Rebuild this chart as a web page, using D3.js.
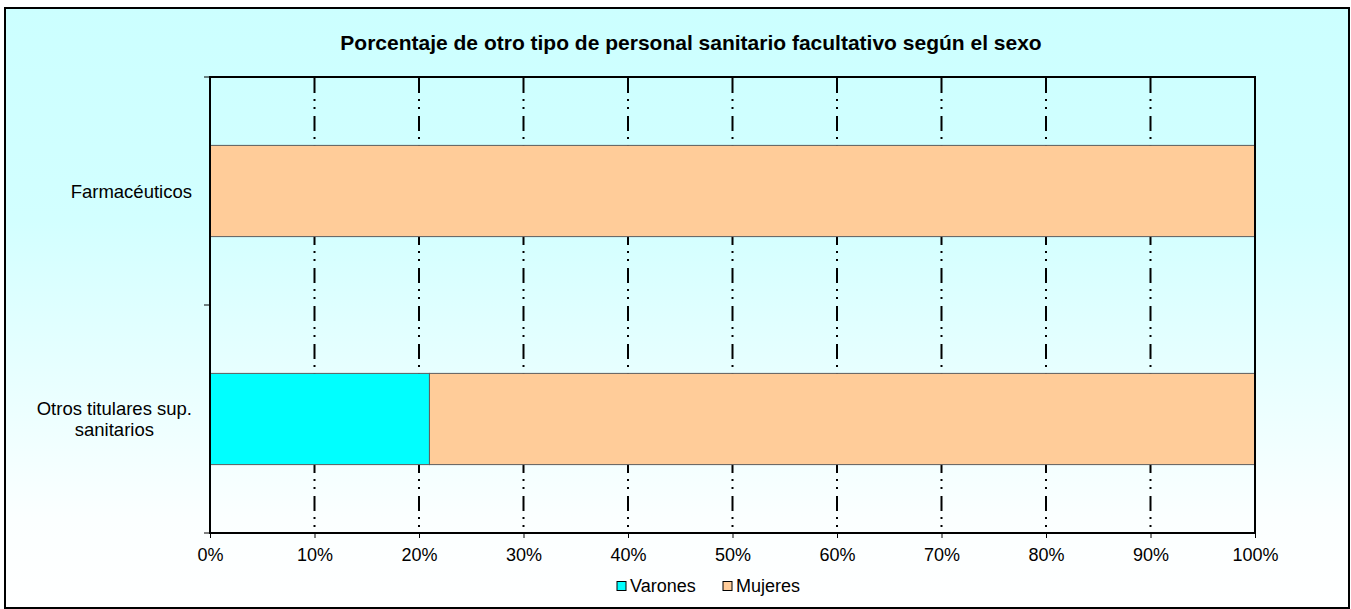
<!DOCTYPE html>
<html lang="es">
<head>
<meta charset="UTF-8">
<title>Porcentaje de otro tipo de personal sanitario facultativo</title>
<script src="https://cdn.jsdelivr.net/npm/d3@7"></script>
<style>
    body { margin: 0; background-color: #ffffff; }
    text { font-family: "Liberation Sans", Arial, sans-serif; fill: #000; }
</style>
</head>
<body>
<div id="my_dataviz"></div>
<script>

// data
var categories = ["Farmacéuticos", "Otros titulares sup. sanitarios"];
var labelLines = [["Farmacéuticos"], ["Otros titulares sup.", "sanitarios"]];
var varones = [0, 0.21];
var mujeres = [1.0, 0.79];
var seriesNames = ["Varones", "Mujeres"];
var seriesColors = ["#00ffff", "#ffcc99"];
var xTicks = [0, 0.1, 0.2, 0.3, 0.4, 0.5, 0.6, 0.7, 0.8, 0.9, 1.0];
var title = "Porcentaje de otro tipo de personal sanitario facultativo según el sexo";

var W = 1351, H = 609;
var margin = {top: 77, right: 96, bottom: 76, left: 210},
    width = W - margin.left - margin.right,
    height = H - margin.top - margin.bottom;

var svg = d3.select("#my_dataviz")
    .append("svg")
        .attr("width", W)
        .attr("height", H);

// background gradient
var grad = svg.append("defs").append("linearGradient")
    .attr("id", "bg")
    .attr("x1", 0).attr("y1", 0).attr("x2", 0).attr("y2", 1);
grad.append("stop").attr("offset", "0%").attr("stop-color", "#ccffff");
grad.append("stop").attr("offset", "35%").attr("stop-color", "#d2ffff");
grad.append("stop").attr("offset", "85%").attr("stop-color", "#fbffff");
grad.append("stop").attr("offset", "100%").attr("stop-color", "#ffffff");

svg.append("rect")
    .attr("x", 5).attr("y", 8)
    .attr("width", 1344).attr("height", 600)
    .attr("fill", "url(#bg)")
    .attr("stroke", "#000")
    .attr("stroke-width", 2);

// title
svg.append("text")
    .attr("x", 691)
    .attr("y", 42)
    .attr("text-anchor", "middle")
    .attr("dominant-baseline", "central")
    .style("font-weight", "bold")
    .style("font-size", "21px")
    .text(title);

var g = svg.append("g")
    .attr("transform", "translate(" + margin.left + "," + margin.top + ")");

// scales
var x = d3.scaleLinear()
    .domain([0, 1])
    .range([0, width]);

var y = d3.scaleBand()
    .domain(categories)
    .range([0, height])
    .paddingInner(0.6)
    .paddingOuter(0.3);

var yb = d3.scaleBand()
    .domain(categories)
    .range([0, height])
    .padding(0);

// gridlines
g.selectAll(".grid")
    .data(xTicks.slice(1, -1))
    .enter()
    .append("line")
        .attr("x1", function(d) { return x(d); })
        .attr("x2", function(d) { return x(d); })
        .attr("y1", 0)
        .attr("y2", height)
        .attr("stroke", "#000")
        .attr("stroke-width", 2)
        .attr("stroke-dasharray", "15,6,2,6,2,7")
        .attr("stroke-dashoffset", -1);

// stacked bars
var rows = categories.map(function(c, i) {
    return {cat: c, Varones: varones[i], Mujeres: mujeres[i]};
});
var stack = d3.stack().keys(seriesNames)(rows);

g.selectAll(".serie")
    .data(stack)
    .enter()
    .append("g")
        .attr("fill", function(d, i) { return seriesColors[i]; })
    .selectAll("rect")
    .data(function(d) { return d; })
    .enter()
    .filter(function(d) { return d[1] - d[0] > 0; })
    .append("rect")
        .attr("x", function(d) { return x(d[0]); })
        .attr("width", function(d) { return x(d[1]) - x(d[0]); })
        .attr("y", function(d) { return y(d.data.cat); })
        .attr("height", y.bandwidth())
        .attr("stroke", "#5e5e5e")
        .attr("stroke-width", 1);

// plot border
g.append("rect")
    .attr("x", 0).attr("y", 0)
    .attr("width", width).attr("height", height)
    .attr("fill", "none")
    .attr("stroke", "#000")
    .attr("stroke-width", 2);

// x axis
var xAxis = g.append("g")
    .attr("transform", "translate(0," + height + ")")
    .call(d3.axisBottom(x)
        .tickValues(xTicks)
        .tickFormat(d3.format(".0%"))
        .tickSize(5)
        .tickPadding(10));
xAxis.select(".domain").remove();
xAxis.selectAll("line").attr("stroke", "#000");
xAxis.selectAll("text")
    .style("font-size", "18px")
    .attr("font-family", null);

// y axis ticks at band edges
var edges = categories.map(function(c) { return yb(c); }).concat([height]);
g.selectAll(".ytick")
    .data(edges)
    .enter()
    .append("line")
        .attr("x1", -6)
        .attr("x2", 0)
        .attr("y1", function(d) { return d; })
        .attr("y2", function(d) { return d; })
        .attr("stroke", "#000");

// category labels (block right aligned, lines centered)
categories.forEach(function(c, i) {
    var lines = labelLines[i];
    var cy = y(c) + y.bandwidth() / 2;
    var lg = g.append("g");
    var texts = lines.map(function(l, j) {
        return lg.append("text")
            .attr("y", cy + (j - (lines.length - 1) / 2) * 21)
            .attr("dominant-baseline", "central")
            .attr("text-anchor", "middle")
            .style("font-size", "18.5px")
            .text(l);
    });
    var maxW = d3.max(texts, function(t) { return t.node().getComputedTextLength(); });
    texts.forEach(function(t) { t.attr("x", -18 - maxW / 2); });
});

// legend
var legend = svg.append("g");
var legX = [617, 723];
seriesNames.forEach(function(s, i) {
    legend.append("rect")
        .attr("x", legX[i]).attr("y", 581.5)
        .attr("width", 9).attr("height", 9)
        .attr("fill", seriesColors[i])
        .attr("stroke", "#000");
    legend.append("text")
        .attr("x", legX[i] + 13)
        .attr("y", 586)
        .attr("dominant-baseline", "central")
        .style("font-size", "18px")
        .text(s);
});

</script>
</body>
</html>
